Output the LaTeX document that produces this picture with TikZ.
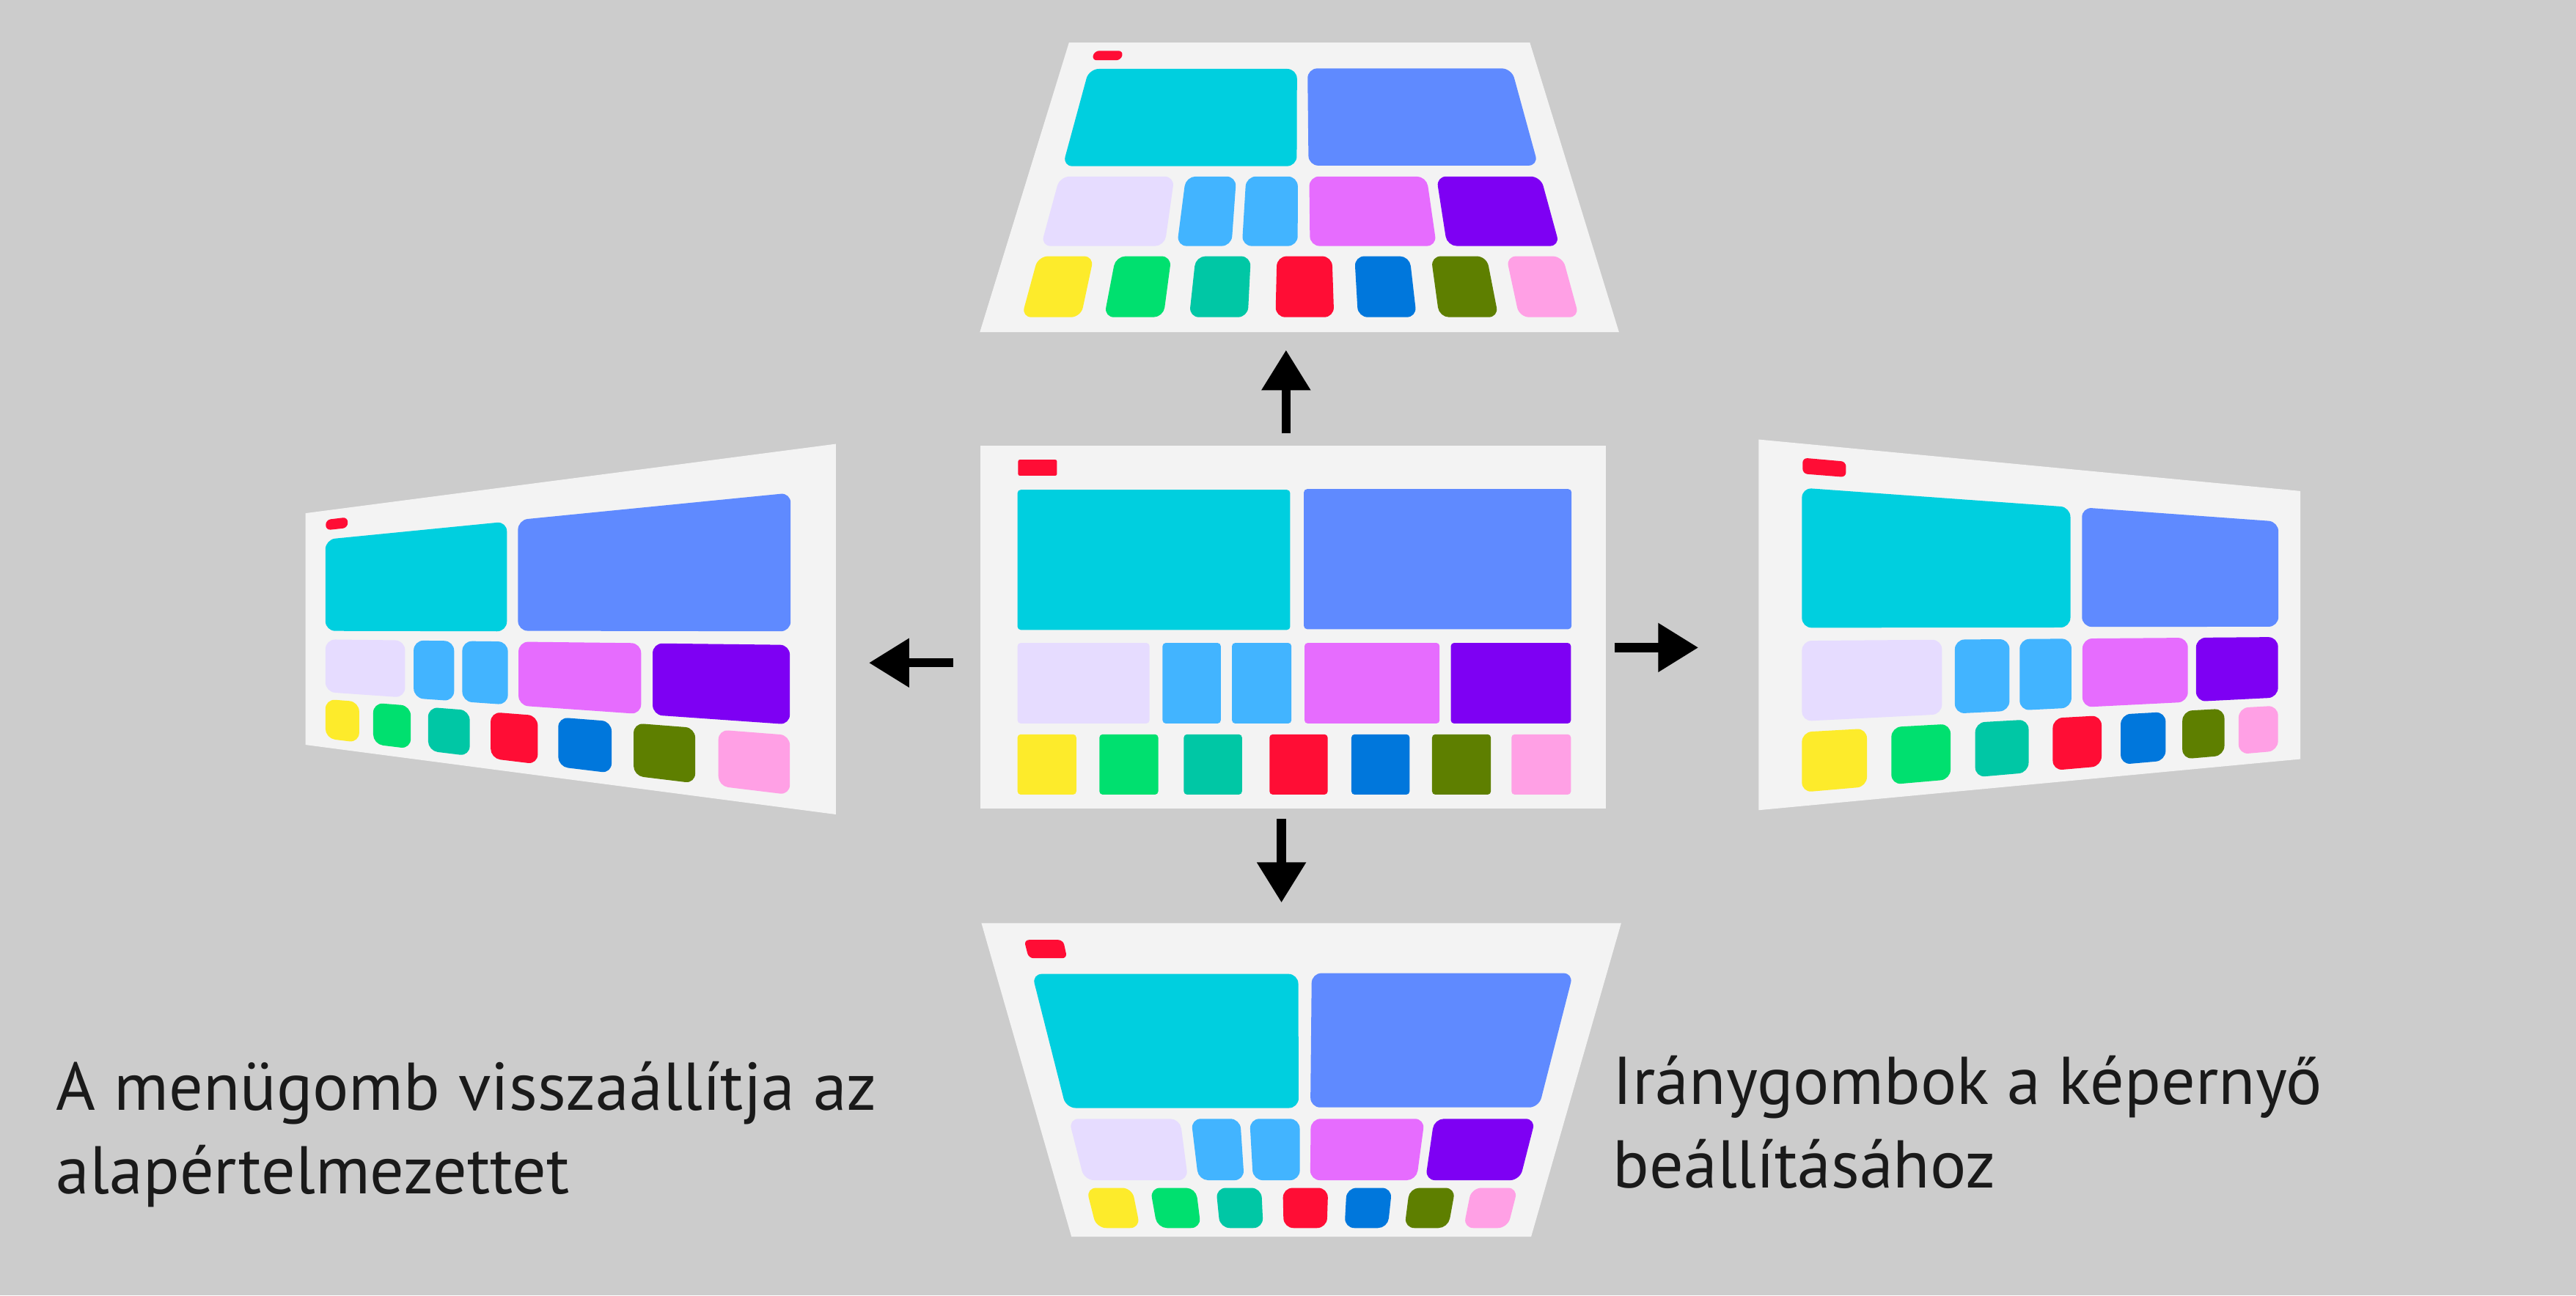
\documentclass[tikz,border=0pt]{standalone}
\usepackage{fontspec}
\setmainfont{PT Sans}
\usepackage{tikz}
\usetikzlibrary{arrows.meta,calc}
\definecolor{backgray}{HTML}{CCCCCC}
\definecolor{screengray}{HTML}{F3F3F3}
\definecolor{inkblack}{HTML}{1A1A1A}
\definecolor{tilecyan}{HTML}{00CFDF}
\definecolor{tileblue}{HTML}{5F8AFF}
\definecolor{tilelilac}{HTML}{E6DCFF}
\definecolor{tilesky}{HTML}{42B4FF}
\definecolor{tilepink}{HTML}{E66CFE}
\definecolor{tileviolet}{HTML}{7E00F3}
\definecolor{tileyellow}{HTML}{FDEB2B}
\definecolor{tilegreen}{HTML}{00E06F}
\definecolor{tileteal}{HTML}{00C7A5}
\definecolor{tilered}{HTML}{FF0D35}
\definecolor{tilenavy}{HTML}{0077DC}
\definecolor{tileolive}{HTML}{5E7F00}
\definecolor{tilerose}{HTML}{FFA0E5}
\tikzset{
  scr/.style={fill=screengray},
  arr/.style={-{Triangle[length=4.9mm, width=5.7mm]}, line width=1.1mm, black},
  lbl/.style={text=inkblack, align=left, inner sep=0pt, font=\fontsize{23.4}{29}\selectfont},
}
% colour/radius factor/u1/v1/u2/v2 of each tile on the flat screen
\newcommand{\tilelist}{tilered/0.5/0.060/0.039/0.122/0.083,
  tilecyan/1/0.059/0.122/0.495/0.508, tileblue/1/0.517/0.120/0.945/0.506,
  tilelilac/1/0.059/0.544/0.270/0.766, tilesky/1/0.291/0.544/0.384/0.766,
  tilesky/1/0.402/0.544/0.497/0.766, tilepink/1/0.518/0.544/0.734/0.766,
  tileviolet/1/0.752/0.544/0.944/0.766,
  tileyellow/1/0.059/0.796/0.153/0.962, tilegreen/1/0.190/0.796/0.284/0.962,
  tileteal/1/0.325/0.796/0.418/0.962, tilered/1/0.462/0.796/0.555/0.962,
  tilenavy/1/0.593/0.796/0.686/0.962, tileolive/1/0.722/0.796/0.816/0.962,
  tilerose/1/0.849/0.796/0.944/0.962}
% point (u,v) of a screen seen in perspective: screen, ratio u, ratio v, u, v, name
\newcommand{\mappt}[6]{%
  \pgfmathsetmacro\tu{#4/((1-#2)*#4+#2)}%
  \pgfmathsetmacro\tv{#5/((1-#3)*#5+#3)}%
  \path ($(#1-tl)!\tu!(#1-tr)$) coordinate (m-top)
        ($(#1-bl)!\tu!(#1-br)$) coordinate (m-bot)
        ($(m-top)!\tv!(m-bot)$) coordinate (#6);
}
% screen, ratio u, ratio v, corner radius (pt)
\newcommand{\drawscreen}[4]{%
  \fill[scr] (#1-tl) -- (#1-tr) -- (#1-br) -- (#1-bl) -- cycle;
  \foreach \tc/\rf/\ua/\va/\ub/\vb in \tilelist {
    \mappt{#1}{#2}{#3}{\ua}{\va}{t1}
    \mappt{#1}{#2}{#3}{\ub}{\va}{t2}
    \mappt{#1}{#2}{#3}{\ub}{\vb}{t3}
    \mappt{#1}{#2}{#3}{\ua}{\vb}{t4}
    \pgfmathsetmacro\rr{\rf*#4}
    \fill[\tc, rounded corners=\rr pt] (t1) -- (t2) -- (t3) -- (t4) -- cycle;
  }
}

\begin{document}
\begin{tikzpicture}[x=0.2mm, y=-0.2mm]
  \fill[backgray] (0,0) rectangle (1568,788.7);
  % screens
  \coordinate (mid-tl) at (596.9,271.3);  \coordinate (mid-tr) at (977.5,271.3);
  \coordinate (mid-br) at (977.5,492.2);  \coordinate (mid-bl) at (596.9,492.2);
  \coordinate (up-tl) at (650.7,25.9);    \coordinate (up-tr) at (931.2,25.9);
  \coordinate (up-br) at (985.5,202.3);   \coordinate (up-bl) at (596.4,202.3);
  \coordinate (left-tl) at (185.9,312.5); \coordinate (left-tr) at (508.8,270.3);
  \coordinate (left-br) at (508.8,495.9); \coordinate (left-bl) at (185.9,453.5);
  \coordinate (right-tl) at (1070.5,267.6); \coordinate (right-tr) at (1400.2,299);
  \coordinate (right-br) at (1400.2,462.2); \coordinate (right-bl) at (1070.5,493.3);
  \coordinate (down-tl) at (597.4,562.1); \coordinate (down-tr) at (986.8,562.1);
  \coordinate (down-br) at (932,753);     \coordinate (down-bl) at (652.2,753);
  \drawscreen{mid}{1}{1}{1.1}
  \drawscreen{up}{1}{1.387}{3.4}
  \drawscreen{left}{1.6}{1}{3.4}
  \drawscreen{right}{0.723}{1}{3.4}
  \drawscreen{down}{1}{0.7185}{3.4}
  % arrows
  \coordinate (a-up1) at (782.8,263.9);   \coordinate (a-up2) at (782.8,213.1);
  \coordinate (a-dn1) at (780,498.6);     \coordinate (a-dn2) at (780,549.6);
  \coordinate (a-lf1) at (580.2,403.6);   \coordinate (a-lf2) at (528.9,403.6);
  \coordinate (a-rt1) at (982.8,394.3);   \coordinate (a-rt2) at (1033.8,394.3);
  \draw[arr] (a-up1) -- (a-up2);
  \draw[arr] (a-dn1) -- (a-dn2);
  \draw[arr] (a-lf1) -- (a-lf2);
  \draw[arr] (a-rt1) -- (a-rt2);
  % captions
  \node[lbl, anchor=base west] (resettext) at (34,726.8) {A menügomb visszaállítja az\\alapértelmezettet};
  \node[lbl, anchor=base west] (dirtext) at (981.5,723.5) {Iránygombok a képernyő\\beállításához};
\end{tikzpicture}
\end{document}
